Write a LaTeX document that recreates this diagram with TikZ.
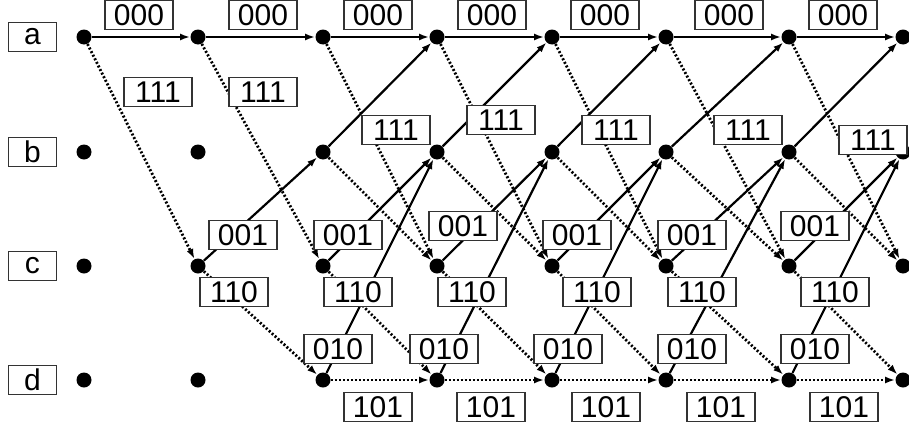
\documentclass[tikz,border=0pt]{standalone}
\usepackage{fontspec}
\setmainfont{Liberation Sans}
\usetikzlibrary{arrows.meta, positioning}

\begin{document}
\begin{tikzpicture}[
    x=0.5pt, y=-0.5pt,
    node distance=9.5pt,
    dot/.style={
        circle,
        fill=black,
        inner sep=0pt,
        minimum size=7.5pt
    },
    stateBox/.style={
        rectangle,
        draw=black!80,
        line width=0.6pt,
        fill=white,
        minimum width=24pt,
        minimum height=14.5pt,
        inner sep=0pt,
        font=\fontsize{15}{17}\selectfont
    },
    codeBox/.style={
        rectangle,
        draw=black!80,
        line width=0.6pt,
        fill=white,
        minimum width=34pt,
        minimum height=14.5pt,
        inner sep=0pt,
        font=\fontsize{15}{17}\selectfont
    },
    solidEdge/.style={
        -{Latex[length=5pt,width=3.5pt]},
        line width=1.1pt
    },
    dotEdge/.style={
        -{Latex[length=5pt,width=3.5pt]},
        line width=1.4pt,
        dash pattern=on 1pt off 1pt
    }
]
\useasboundingbox (0,0) rectangle (909,428);

% Etats
\foreach \n/\x in {0/84,1/198,2/323,3/437,4/552,5/666,6/789,7/903} {
    \node[dot] (a\n) at (\x,37) {};
    \node[dot] (b\n) at (\x,152) {};
    \node[dot] (c\n) at (\x,266) {};
    \node[dot] (d\n) at (\x,380) {};
}

\node[stateBox, left=of a0] (la) {a};
\node[stateBox, left=of b0] (lb) {b};
\node[stateBox, left=of c0] (lc) {c};
\node[stateBox, left=of d0] (ld) {d};

% Transitions
\draw[solidEdge] (a0) -- (a1);
\draw[dotEdge] (a0) -- (c1);
\draw[solidEdge] (a1) -- (a2);
\draw[dotEdge] (a1) -- (c2);
\draw[solidEdge] (c1) -- (b2);
\draw[dotEdge] (c1) -- (d2);
\foreach \i/\j in {2/3,3/4,4/5,5/6,6/7} {
    \draw[solidEdge] (a\i) -- (a\j);
    \draw[dotEdge] (a\i) -- (c\j);
    \draw[solidEdge] (b\i) -- (a\j);
    \draw[dotEdge] (b\i) -- (c\j);
    \draw[solidEdge] (c\i) -- (b\j);
    \draw[dotEdge] (c\i) -- (d\j);
    \draw[solidEdge] (d\i) -- (b\j);
    \draw[dotEdge] (d\i) -- (d\j);
}

% Sorties
\foreach \x [count=\k] in {139,263,378,492,605,729,843}
    \node[codeBox] (o000\k) at (\x,15) {000};
\foreach \x/\y [count=\k] in {158/92,263/92,396/130,501/120,616/130,748/130,873/140}
    \node[codeBox] (o111\k) at (\x,\y) {111};
\foreach \x/\y [count=\k] in {243/235,348/235,463/226,577/235,692/235,815/226}
    \node[codeBox] (o001\k) at (\x,\y) {001};
\foreach \x [count=\k] in {234,358,472,597,702,835}
    \node[codeBox] (o110\k) at (\x,292) {110};
\foreach \x [count=\k] in {338,444,568,692,815}
    \node[codeBox] (o010\k) at (\x,349) {010};
\foreach \x [count=\k] in {378,491,606,721,844}
    \node[codeBox] (o101\k) at (\x,407) {101};

\end{tikzpicture}
\end{document}
